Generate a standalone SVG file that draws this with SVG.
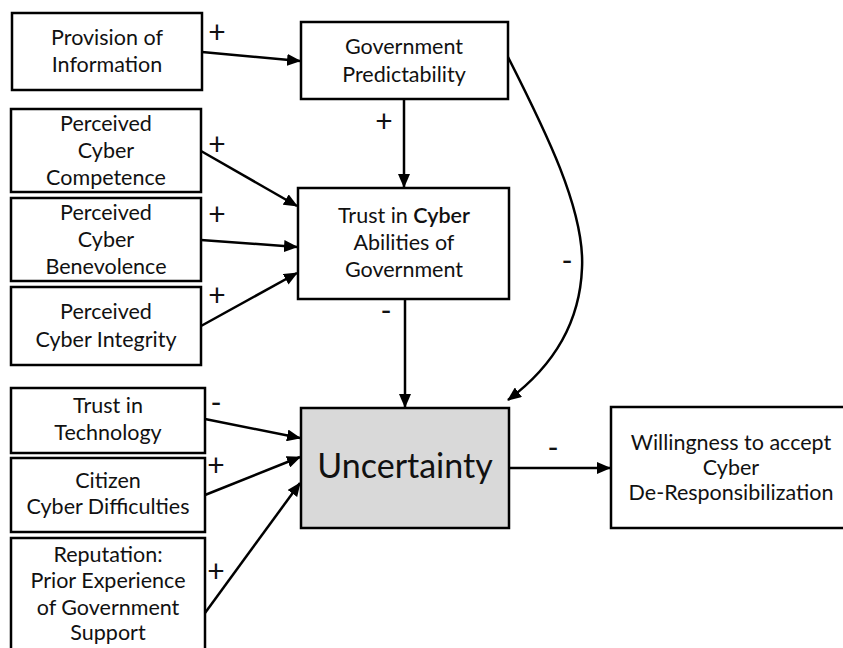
<svg xmlns="http://www.w3.org/2000/svg" width="843" height="648" viewBox="0 0 843 648">
<defs>
<style>
.box{fill:#fff;stroke:#000;stroke-width:2.5}
.hub{fill:#d9d9d9;stroke:#000;stroke-width:2.5}
text{font-family:Lato,"Noto Sans","DejaVu Sans",sans-serif;font-size:21.5px;fill:#111;text-anchor:middle}
.big{font-size:34px}
.sign{font-size:30px}
.edge{fill:none;stroke:#000;stroke-width:2.5;marker-end:url(#ah)}
</style>
<marker id="ah" viewBox="0 0 14 12" refX="13" refY="6" markerWidth="14" markerHeight="12" markerUnits="userSpaceOnUse" orient="auto">
<path d="M0,0 L14,6 L0,12 z" fill="#000"/>
</marker>
</defs>
<rect width="843" height="648" fill="#fff"/>

<g id="connectors">
<line class="edge" x1="202" y1="52" x2="300" y2="61"/>
<line class="edge" x1="404" y1="99" x2="404" y2="187"/>
<line class="edge" x1="201" y1="151" x2="297" y2="206"/>
<line class="edge" x1="201" y1="240" x2="297" y2="247"/>
<line class="edge" x1="201" y1="326" x2="297" y2="273"/>
<line class="edge" x1="405" y1="299" x2="405" y2="407"/>
<path class="edge" d="M508,57 C545,130 585,210 582,268 C580,320 555,365 508,400"/>
<line class="edge" x1="205" y1="419" x2="300" y2="438"/>
<line class="edge" x1="205" y1="495" x2="300" y2="457"/>
<line class="edge" x1="205" y1="613" x2="300" y2="483"/>
<line class="edge" x1="509" y1="468" x2="610" y2="468"/>
<text class="sign" x="217" y="43">+</text>
<text class="sign" x="384" y="132">+</text>
<text class="sign" x="217" y="155">+</text>
<text class="sign" x="217" y="225">+</text>
<text class="sign" x="217" y="306">+</text>
<text class="sign" x="386" y="321">-</text>
<text class="sign" x="567" y="271">-</text>
<text class="sign" x="216" y="413">-</text>
<text class="sign" x="216" y="476">+</text>
<text class="sign" x="216" y="582">+</text>
<text class="sign" x="553" y="458">-</text>
</g>

<g id="provision">
<rect class="box" x="12" y="13" width="190" height="77"/>
<text x="107" y="45">Provision of</text>
<text x="107" y="72">Information</text>
</g>

<g id="predictability">
<rect class="box" x="301" y="22" width="207" height="77"/>
<text x="404" y="54">Government</text>
<text x="404" y="82">Predictability</text>
</g>

<g id="competence">
<rect class="box" x="11" y="109" width="190" height="83"/>
<text x="106" y="131">Perceived</text>
<text x="106" y="158">Cyber</text>
<text x="106" y="185">Competence</text>
</g>

<g id="benevolence">
<rect class="box" x="11" y="198" width="190" height="83"/>
<text x="106" y="220">Perceived</text>
<text x="106" y="247">Cyber</text>
<text x="106" y="274">Benevolence</text>
</g>

<g id="integrity">
<rect class="box" x="11" y="287" width="190" height="78"/>
<text x="106" y="319">Perceived</text>
<text x="106" y="347">Cyber Integrity</text>
</g>

<g id="trust-cyber">
<rect class="box" x="298" y="188" width="211" height="111"/>
<text x="404" y="223">Trust in <tspan font-weight="600">Cyber</tspan></text>
<text x="404" y="250">Abilities of</text>
<text x="404" y="277">Government</text>
</g>

<g id="trust-tech">
<rect class="box" x="11" y="388" width="194" height="65"/>
<text x="108" y="413">Trust in</text>
<text x="108" y="440">Technology</text>
</g>

<g id="citizen">
<rect class="box" x="11" y="458" width="194" height="74"/>
<text x="108" y="488">Citizen</text>
<text x="108" y="514">Cyber Difficulties</text>
</g>

<g id="reputation">
<rect class="box" x="11" y="538" width="194" height="125"/>
<text x="108" y="562">Reputation:</text>
<text x="108" y="588">Prior Experience</text>
<text x="108" y="615">of Government</text>
<text x="108" y="640">Support</text>
</g>

<g id="uncertainty">
<rect class="hub" x="301" y="408" width="208" height="120"/>
<text class="big" x="405" y="478">Uncertainty</text>
</g>

<g id="willingness">
<rect class="box" x="611" y="407" width="240" height="121"/>
<text x="731" y="450">Willingness to accept</text>
<text x="731" y="475">Cyber</text>
<text x="731" y="500">De-Responsibilization</text>
</g>
</svg>
